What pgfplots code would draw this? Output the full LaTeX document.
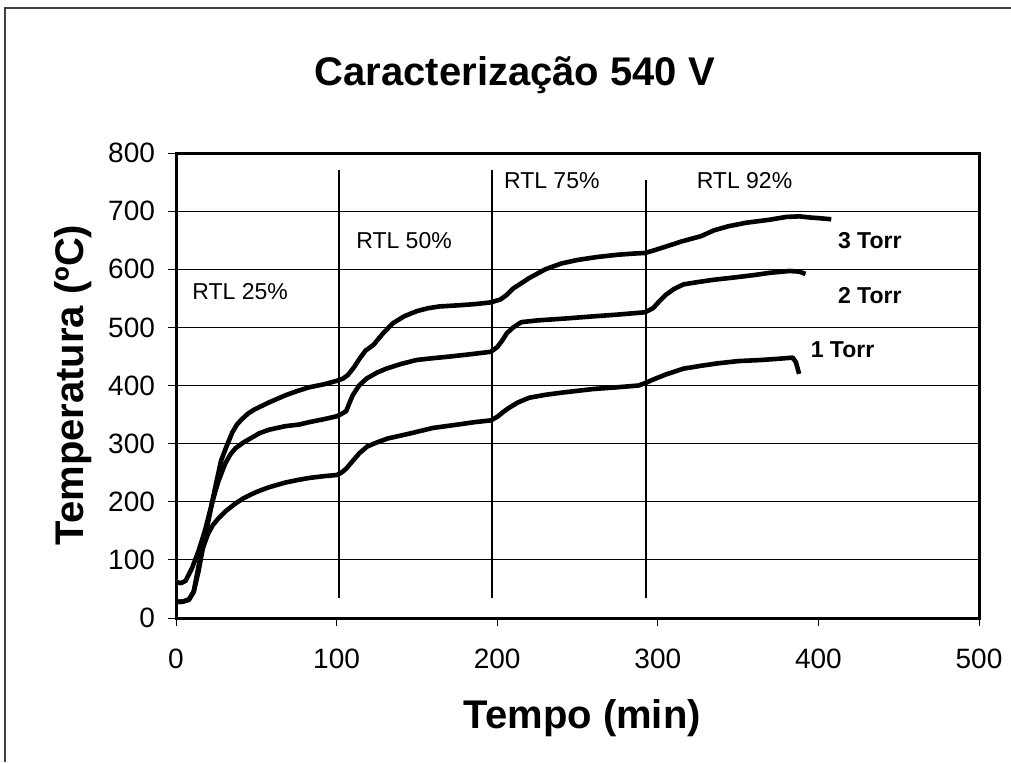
\documentclass[border=0pt]{standalone}
\usepackage{fontspec}
\setmainfont{Liberation Sans}
\usepackage{pgfplots}
\pgfplotsset{compat=1.18}

\begin{document}
\begin{tikzpicture}
% page frame (1 px = 0.5 pt)
\useasboundingbox (-88pt,-72pt) rectangle (417.5pt,309pt);
\draw[black!75, line width=1pt] (-85.5pt,-72pt) -- (-85.5pt,305pt) -- (417.5pt,305pt);

\begin{axis}[
    at={(0,0)}, anchor=south west,
    scale only axis,
    width=401.5pt, height=232.5pt,
    xmin=0, xmax=500, ymin=0, ymax=800,
    xtick={0,100,...,500}, ytick={0,100,...,800},
    ymajorgrids,
    grid style={black, line width=0.5pt},
    axis line style={line width=1.5pt},
    tick align=outside, tick pos=left,
    major tick length=4pt,
    tick style={black, line width=0.5pt},
    ticklabel style={font=\fontsize{14}{16}\selectfont},
    /pgf/number format/assume math mode=true,
    xticklabel style={yshift=-8pt},
    yticklabel style={xshift=-3pt},
    clip=false,
]

% 3 Torr
\addplot[black, mark=none, line width=2.3pt, line join=round] coordinates {
(0,62) (3,60) (6,64) (10,86) (14,115) (18,150) (22,193) (25,232) (28,270)
(31,292) (35,319) (38,333) (41,342) (45,352) (49,359) (58,371) (68,383)
(75,390) (83,397) (92,402) (100,408) (104,412) (107,418) (111,432) (114.5,447)
(118,460) (123,470) (129,490) (135,507) (142,519) (150,528) (157,533)
(164,536) (176,538) (186,540) (196,543) (202,548) (206,556)
(210,567) (215,576) (220,585) (230,600) (240,610) (250,616) (262,621)
(275,625) (285,627) (292,628) (297,632) (305,639) (315,648) (327,657)
(335,667) (344,674) (355,680) (369,685) (380,690) (388,691) (395,689)
(400,688) (408,686)
};

% 2 Torr
\addplot[black, mark=none, line width=2.3pt, line join=round] coordinates {
(0,28) (4,28) (8,31) (11,45) (14,80) (16,110) (18,138) (20,165) (22.4,197)
(24.5,218) (26.6,237) (30.7,266) (34,282) (37,292) (42,302) (47,310)
(52,318) (58,324) (68,330) (77,333) (83,337) (92,342) (100,347) (103,351)
(106,356) (108,370) (110,383) (114,400) (118.7,412) (125,422) (131,429)
(140,437) (150,444) (160,447) (171,450) (184,454) (196,458) (200,466)
(203,477) (206,490) (210,500) (215,509) (225,512) (241,515) (260,519)
(275,522) (292,526) (297,533) (301,545) (305,556) (310,566) (316,574)
(325,578) (335,582) (348,586) (360,590) (370,594) (382,597) (388,596) (392,592)
};

% 1 Torr
\addplot[black, mark=none, line width=2.3pt, line join=round] coordinates {
(0,28) (4,28) (8,32) (11,45) (14,88) (16,115) (20,145) (23,160) (26.6,172)
(31,184) (37,197) (42,206) (47,213) (52,219) (58,225) (68,233) (75,237)
(83,241) (92,244) (100,246) (103,250) (106,257) (110,270) (114,283)
(119,295) (125,302) (132,309) (145,317) (160,327) (176,333) (186,337)
(196,340) (200,346) (204,355) (207,361) (213,371) (220,379) (230,384)
(241,388) (260,394) (275,397) (288,400) (293,405) (296,409) (305,419)
(316,429) (327,434) (337,438) (350,442) (365,444) (375,446) (384,448)
(386,440) (388,420)
};

% RTL separators
\draw[black, line width=0.6pt] (axis cs:101.5,34) -- (axis cs:101.5,771);
\draw[black, line width=0.6pt] (axis cs:196.8,34) -- (axis cs:196.8,771);
\draw[black, line width=0.6pt] (axis cs:292.7,34) -- (axis cs:292.7,753);

\node[font=\fontsize{11.5}{14}\selectfont] at (axis cs:39.9,561) {RTL 25\%};
\node[font=\fontsize{11.5}{14}\selectfont] at (axis cs:142,650) {RTL 50\%};
\node[font=\fontsize{11.5}{14}\selectfont] at (axis cs:234,752) {RTL 75\%};
\node[font=\fontsize{11.5}{14}\selectfont] at (axis cs:354,752) {RTL 92\%};

\node[font=\fontsize{11.5}{14}\selectfont\bfseries] at (axis cs:432,650) {3 Torr};
\node[font=\fontsize{11.5}{14}\selectfont\bfseries] at (axis cs:432,555) {2 Torr};
\node[font=\fontsize{11.5}{14}\selectfont\bfseries] at (axis cs:415,461) {1 Torr};

% title and axis labels
\node[font=\fontsize{20}{24}\selectfont\bfseries] at (axis cs:211,934) {Caracterização 540 V};
\node[font=\fontsize{20}{24}\selectfont\bfseries] at (axis cs:253,-172) {Tempo (min)};
\node[font=\fontsize{20}{24}\selectfont\bfseries, rotate=90] at (axis cs:-64,401) {Temperatura (ºC)};
\end{axis}
\end{tikzpicture}
\end{document}
